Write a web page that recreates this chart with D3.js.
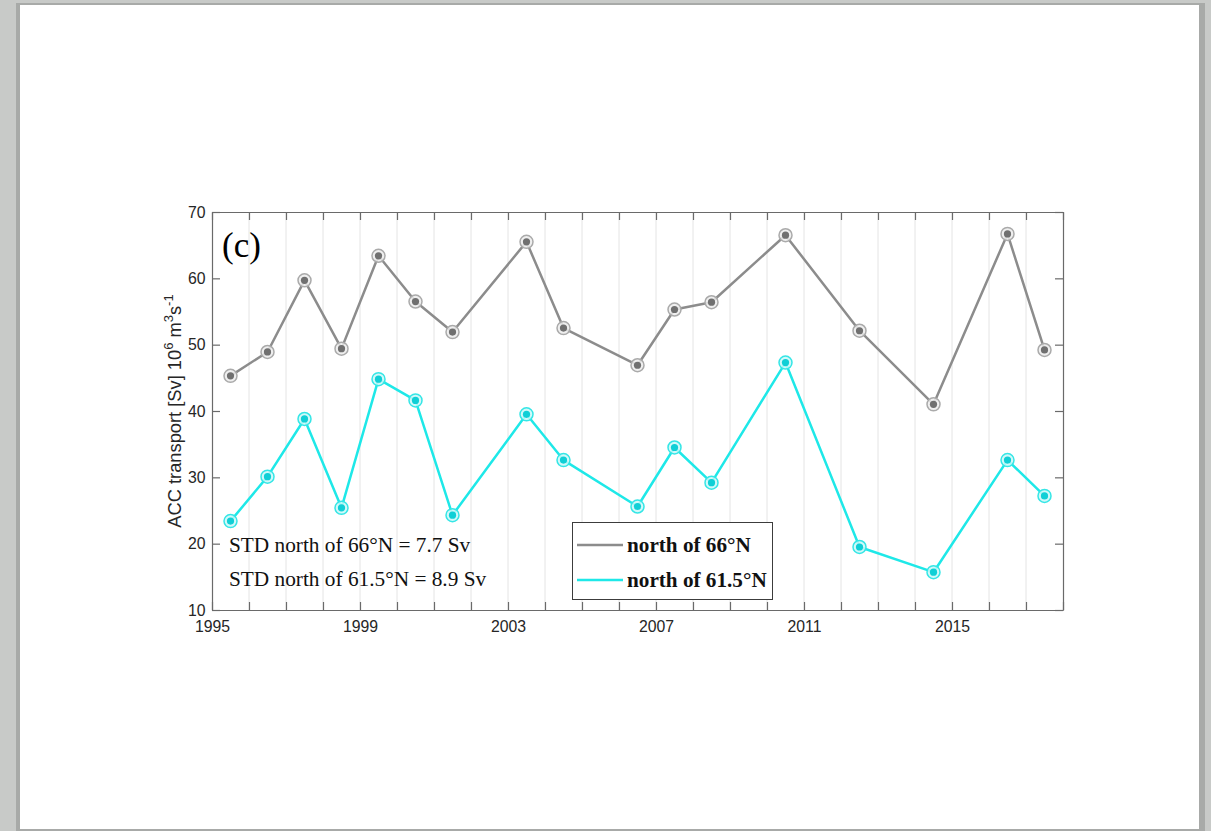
<!DOCTYPE html>
<html>
<head>
<meta charset="utf-8">
<script src="https://cdn.jsdelivr.net/npm/d3@7/dist/d3.min.js"></script>
<style>
  html, body { margin: 0; padding: 0; background: #c8cac8; }
  svg { display: block; }
</style>
</head>
<body>
<svg id="chart" width="1211" height="831"></svg>
<script>
// Sampling times (decimal years) of the transport estimates
const years = [1995.5, 1996.5, 1997.5, 1998.5, 1999.5, 2000.5, 2001.5, 2003.5, 2004.5,
               2006.5, 2007.5, 2008.5, 2010.5, 2012.5, 2014.5, 2016.5, 2017.5];
// ACC transport north of 66°N [Sv]
const north66 = [45.3, 48.9, 59.7, 49.4, 63.4, 56.5, 51.9, 65.5, 52.5,
                 46.9, 55.3, 56.4, 66.5, 52.1, 41.0, 66.7, 49.2];
// ACC transport north of 61.5°N [Sv]
const north615 = [23.4, 30.1, 38.8, 25.4, 44.8, 41.6, 24.3, 39.5, 32.6,
                  25.6, 34.5, 29.2, 47.3, 19.5, 15.7, 32.6, 27.2];
const seriesNames = ["north of 66°N", "north of 61.5°N"];
const yTicks = [10, 20, 30, 40, 50, 60, 70];
const xTickLabels = [1995, 1999, 2003, 2007, 2011, 2015];
const stdLines = ["STD north of 66°N = 7.7 Sv", "STD north of 61.5°N = 8.9 Sv"];

const svg = d3.select("#chart");

// page sheet with a soft edge
svg.append("rect").attr("x", 0).attr("y", 0).attr("width", 1211).attr("height", 831).attr("fill", "#c8cac8");
svg.append("rect").attr("x", 16).attr("y", 3).attr("width", 1189).attr("height", 828).attr("fill", "#a8aaa8");
svg.append("rect").attr("x", 20).attr("y", 5).attr("width", 1179).attr("height", 824).attr("fill", "#ffffff");

const plotL = 212, plotR = 1063, plotT = 212, plotB = 610;
const x = d3.scaleLinear().domain([1995, 2018]).range([plotL, plotR]);
const y = d3.scaleLinear().domain([10, 70]).range([plotB, plotT]);

const serif = "'Liberation Serif', 'Times New Roman', serif";
const sans = "'Liberation Sans', Arial, sans-serif";
const axisColor = "#6a6a6a";
const textColor = "#262626";

// yearly grid lines
const allYears = d3.range(1995, 2019);
svg.append("g").selectAll("line").data(allYears.slice(1, -1)).join("line")
  .attr("x1", d => x(d)).attr("x2", d => x(d))
  .attr("y1", plotT).attr("y2", plotB)
  .attr("stroke", "#e4e4e4").attr("stroke-width", 1);

// axes: ticks point inwards on all four sides
const fmtX = d => xTickLabels.includes(d) ? String(d) : "";
const xBottom = d3.axisBottom(x).tickValues(allYears).tickFormat(fmtX).tickSizeInner(-8).tickSizeOuter(0).tickPadding(6);
const xTop = d3.axisTop(x).tickValues(allYears).tickFormat("").tickSizeInner(-8).tickSizeOuter(0);
const yLeft = d3.axisLeft(y).tickValues(yTicks).tickSizeInner(-8).tickSizeOuter(0).tickPadding(8);
const yRight = d3.axisRight(y).tickValues(yTicks).tickFormat("").tickSizeInner(-8).tickSizeOuter(0);

function styleAxis(g) {
  g.select(".domain").attr("stroke", axisColor).attr("stroke-width", 1.2);
  g.selectAll(".tick line").attr("stroke", axisColor).attr("stroke-width", 1.2);
  g.selectAll(".tick text").attr("fill", textColor).style("font-family", sans).style("font-size", "15.8px");
}
svg.append("g").attr("transform", `translate(0,${plotB})`).call(xBottom).call(styleAxis)
  .selectAll(".tick text").attr("dy", "1em");
svg.append("g").attr("transform", `translate(0,${plotT})`).call(xTop).call(styleAxis);
svg.append("g").attr("transform", `translate(${plotL},0)`).call(yLeft).call(styleAxis)
  .selectAll(".tick text").attr("dx", "0.1em");
svg.append("g").attr("transform", `translate(${plotR},0)`).call(yRight).call(styleAxis);

// y-axis title with superscripts
const yTitle = svg.append("text")
  .attr("transform", `translate(181,${(plotT + plotB) / 2}) rotate(-90)`)
  .attr("text-anchor", "middle")
  .attr("fill", textColor)
  .style("font-family", sans).style("font-size", "18.3px");
yTitle.append("tspan").text("ACC transport [Sv] 10");
yTitle.append("tspan").attr("dy", -8).style("font-size", "13px").text("6");
yTitle.append("tspan").attr("dy", 8).text(" m");
yTitle.append("tspan").attr("dy", -8).style("font-size", "13px").text("3");
yTitle.append("tspan").attr("dy", 8).text("s");
yTitle.append("tspan").attr("dy", -8).style("font-size", "13px").text("-1");

// series
const series = [
  { name: seriesNames[0], values: north66, line: "#8c8c8c", ring: "#aaaaaa", halo: "#ececec", dot: "#707070" },
  { name: seriesNames[1], values: north615, line: "#1ee8e8", ring: "#35e6e6", halo: "#c9f8f8", dot: "#10cfd6" }
];
const line = d3.line().x(d => x(d[0])).y(d => y(d[1]));

series.forEach(s => {
  const pts = years.map((yr, i) => [yr, s.values[i]]);
  svg.append("path").datum(pts)
    .attr("d", line).attr("fill", "none")
    .attr("stroke", s.line).attr("stroke-width", 2.5).attr("stroke-linejoin", "round");
  const g = svg.append("g");
  g.selectAll("circle.ring").data(pts).join("circle").attr("class", "ring")
    .attr("cx", d => x(d[0])).attr("cy", d => y(d[1])).attr("r", 6.5)
    .attr("fill", s.halo).attr("fill-opacity", 0.85)
    .attr("stroke", s.ring).attr("stroke-width", 1.5);
  g.selectAll("circle.dot").data(pts).join("circle").attr("class", "dot")
    .attr("cx", d => x(d[0])).attr("cy", d => y(d[1])).attr("r", 3.6)
    .attr("fill", s.dot);
});

// panel letter
svg.append("text").attr("x", 222).attr("y", 257)
  .attr("fill", "#000").style("font-family", serif).style("font-size", "35px").text("(c)");

// standard deviation annotations
svg.append("g").selectAll("text").data(stdLines).join("text")
  .attr("x", 229).attr("y", (d, i) => 552 + i * 33.5)
  .attr("fill", "#111").style("font-family", serif).style("font-size", "21.3px")
  .text(d => d);

// legend
const lg = svg.append("g");
lg.append("rect").attr("x", 572.5).attr("y", 522.5).attr("width", 200).attr("height", 77)
  .attr("fill", "#fff").attr("stroke", "#3c3c3c").attr("stroke-width", 1);
series.forEach((s, i) => {
  const cy = 545 + i * 35;
  lg.append("line").attr("x1", 577).attr("x2", 623).attr("y1", cy).attr("y2", cy)
    .attr("stroke", s.line).attr("stroke-width", 2.5);
  lg.append("text").attr("x", 627).attr("y", cy + 7)
    .attr("fill", "#111").style("font-family", serif).style("font-size", "21.2px").style("font-weight", "bold")
    .text(s.name);
});
</script>
</body>
</html>
